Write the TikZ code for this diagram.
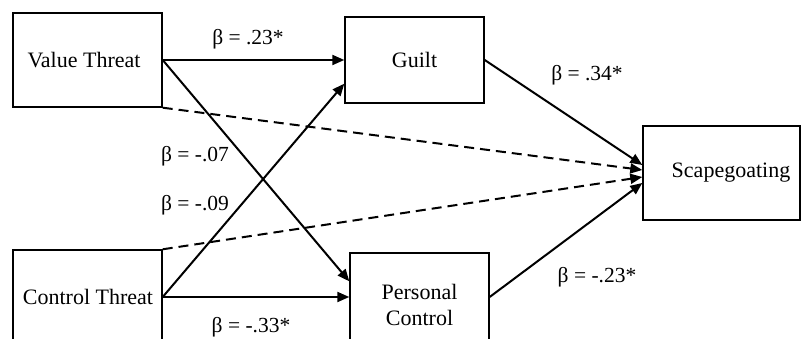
\documentclass[tikz,border=0pt]{standalone}
\usepackage{fontspec}
\setmainfont{Liberation Serif}
\usetikzlibrary{arrows.meta}
\begin{document}
\begin{tikzpicture}[x=1pt,y=1pt,
  box/.style={draw, line width=1.4pt, rectangle, inner sep=0pt, align=center,
    font=\fontsize{22}{26}\selectfont},
  lbl/.style={inner sep=0pt, font=\fontsize{21.5}{25}\selectfont},
  path/.style={line width=2pt, -{Triangle[length=12pt,width=10pt]}},
  dpath/.style={path, dash pattern=on 10pt off 6pt}]
\useasboundingbox (0,0) rectangle (801,339);
\clip (0,0) rectangle (801,339);
\fill[white] (0,0) rectangle (801,339);
\node[box, minimum width=149pt, minimum height=94pt] (vt) at (87.5,279) {};
\node[box, draw=none] (vtt) at (84,279) {Value Threat};
\node[box, minimum width=139pt, minimum height=86pt] (guilt) at (414.5,279) {Guilt};
\node[box, minimum width=157pt, minimum height=94pt] (scape) at (721.5,166) {};
\node[box, draw=none] (scapet) at (731,166) {Scapegoating};
\node[box, minimum width=149pt, minimum height=94pt] (ct) at (87.5,42) {};
\node[box, draw=none] (ctt) at (88,42) {Control Threat};
\node[box, minimum width=139pt, minimum height=103pt] (pc) at (419.5,34.5) {};
\node[box, draw=none] (pct) at (419.5,34.5) {Personal\\Control};

\draw[dpath] (vt.south east) -- ([yshift=3pt]scape.west);
\draw[dpath] (ct.north east) -- ([yshift=-4pt]scape.west);
\draw[path] (vt.east) -- (guilt.west);
\draw[path] (vt.east) -- ([yshift=-29pt]pc.north west);
\draw[path] (ct.east) -- ([yshift=20pt]guilt.south west);
\draw[path] (ct.east) -- (pc.west |- ct.east);
\draw[path] (guilt.east) -- ([yshift=8pt]scape.west);
\draw[path] (pc.east |- ct.east) -- ([yshift=-10pt]scape.west);

\node[lbl] (l1) at (248,300) {β = .23*};
\node[lbl] (l2) at (587,264) {β = .34*};
\node[lbl] (l3) at (195,183) {β = -.07};
\node[lbl] (l4) at (195,134) {β = -.09};
\node[lbl] (l5) at (251,12) {β = -.33*};
\node[lbl] (l6) at (597,62) {β = -.23*};
\end{tikzpicture}
\end{document}
